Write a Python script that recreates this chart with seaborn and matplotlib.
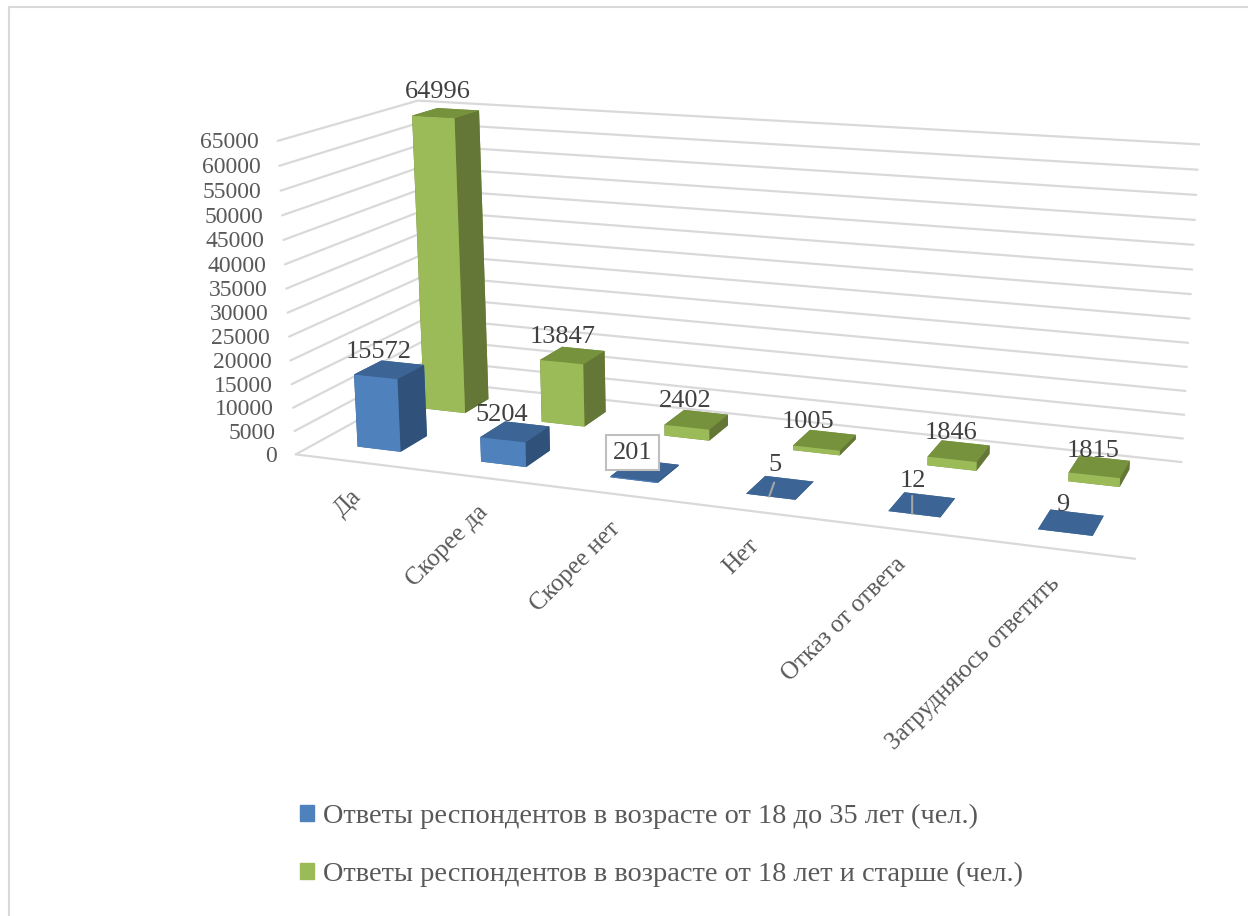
import numpy as np
import matplotlib
matplotlib.use("Agg")
import matplotlib.pyplot as plt
from matplotlib.lines import Line2D
from matplotlib.patches import Patch
from mpl_toolkits.mplot3d import proj3d
import seaborn as sns

categories = ["Да", "Скорее да", "Скорее нет", "Нет", "Отказ от ответа", "Затрудняюсь ответить"]
young = [15572, 5204, 201, 5, 12, 9]
older = [64996, 13847, 2402, 1005, 1846, 1815]
z_ticks = list(range(0, 65001, 5000))
legend_labels = [
    "Ответы респондентов в возрасте от 18 до 35 лет (чел.)",
    "Ответы респондентов в возрасте от 18 лет и старше (чел.)",
]

# label offsets from the bar top centre, in pixels
young_offsets = [(-11, 18), (-13, 17), (-12, 18), (-5, 23), (-9, 24), (-8, 17)]
older_offsets = [(-8, 21), (-10, 18), (-11, 19), (-17, 18), (-8, 18), (-6, 16)]
# thin leader lines of the labels "5" and "12"
leaders = {3: (0.47, 5, 14), 4: (0.46, 0, 18)}

BAR_X, BAR_W = 0.3263, 0.3534
YOUNG_Y, OLDER_Y, BAR_D = 0.1546, 0.6569, 0.198

BLUE = ["#3C6494", "#3C6494", "#4F81BD", "#3C6494", "#30527A", "#30527A"]
GREEN = ["#76923C", "#76923C", "#9BBB59", "#76923C", "#657737", "#657737"]
GRID = "#D9D9D9"
TEXT = "#595959"
LABEL = "#404040"

sns.set_theme(style="white")
plt.rcParams["font.family"] = ["Liberation Serif", "DejaVu Serif"]

W, H = 1248, 916
fig = plt.figure(figsize=(W / 100, H / 100), dpi=100)
ax = fig.add_subplot(111, projection="3d", computed_zorder=False)
ax.set_position([111.43 / W, -11.48 / H, 1215.16 / W, 1215.16 / H])
ax.set_xlim(0, 6)
ax.set_ylim(0, 1)
ax.set_zlim(0, 65000)
ax.view_init(elev=14.1834, azim=-69.8257, roll=0.0922)
ax.set_proj_type("persp", focal_length=0.30981)
box = np.array([1.30585, 0.43255, 0.49539])
ax.set_box_aspect(box, zoom=np.linalg.norm(box) / (1.8294640721620434 * 25 / 24))
ax.set_axis_off()

# walls and floor
for z in z_ticks:
    ax.plot([0, 0, 6], [0, 1, 1], [z, z, z], color=GRID, lw=1.6, zorder=1)
ax.plot([0, 6], [0, 0], [0, 0], color=GRID, lw=1.6, zorder=1)

for i, v in enumerate(older):
    ax.bar3d(i + BAR_X, OLDER_Y, 0, BAR_W, BAR_D, v, color=GREEN, shade=False, lw=0, zorder=2)
for i, v in enumerate(young):
    ax.bar3d(i + BAR_X, YOUNG_Y, 0, BAR_W, BAR_D, v, color=BLUE, shade=False, lw=0, zorder=3)


def note(x, y, z, text, dx, dy, **kw):
    X, Y, _ = proj3d.proj_transform(x, y, z, ax.get_proj())
    return ax.annotate(text, xy=(X, Y), xytext=(dx, dy), textcoords="offset pixels",
                       annotation_clip=False, zorder=5, **kw)


for z in z_ticks:
    note(0, 0, z, str(z), -19, -2, ha="right", va="center", fontsize=17, color=TEXT)

for i, name in enumerate(categories):
    note(i + 0.5, 0, 0, name, 1, -31, ha="right", va="center", rotation=45,
         rotation_mode="anchor", fontsize=18, color=TEXT)

for i, v in enumerate(older):
    dx, dy = older_offsets[i]
    note(i + BAR_X + BAR_W / 2, OLDER_Y + BAR_D / 2, v, str(v), dx, dy,
         ha="center", va="center", fontsize=19, color=LABEL)
for i, v in enumerate(young):
    dx, dy = young_offsets[i]
    kw = {}
    if v == 201:
        kw["bbox"] = dict(boxstyle="square,pad=0.25", fc="white", ec="#BFBFBF", lw=1.5)
    note(i + BAR_X + BAR_W / 2, YOUNG_Y + BAR_D / 2, v, str(v), dx, dy,
         ha="center", va="center", fontsize=19, color=LABEL, **kw)
    if i in leaders:
        frac, lx, ly = leaders[i]
        note(i + BAR_X + frac * BAR_W, YOUNG_Y, v, "", lx, ly,
             arrowprops=dict(arrowstyle="-", color="#A6A6A6", lw=1.5, shrinkA=0, shrinkB=0))

handles = [Patch(color=BLUE[2]), Patch(color=GREEN[2])]
fig.legend(handles, legend_labels, loc="lower left", bbox_to_anchor=(300 / W, 29 / H),
           frameon=False, fontsize=20.4, labelcolor=TEXT, handlelength=0.5, handleheight=0.5,
           handletextpad=0.3, labelspacing=1.15, borderpad=0, borderaxespad=0)

# outer frame of the chart, cut by the page
fig.add_artist(Line2D([9 / W, 9 / W, 1], [0, 1 - 7 / H, 1 - 7 / H], color=GRID, lw=1.5))

fig.savefig("out.png", dpi=100)
